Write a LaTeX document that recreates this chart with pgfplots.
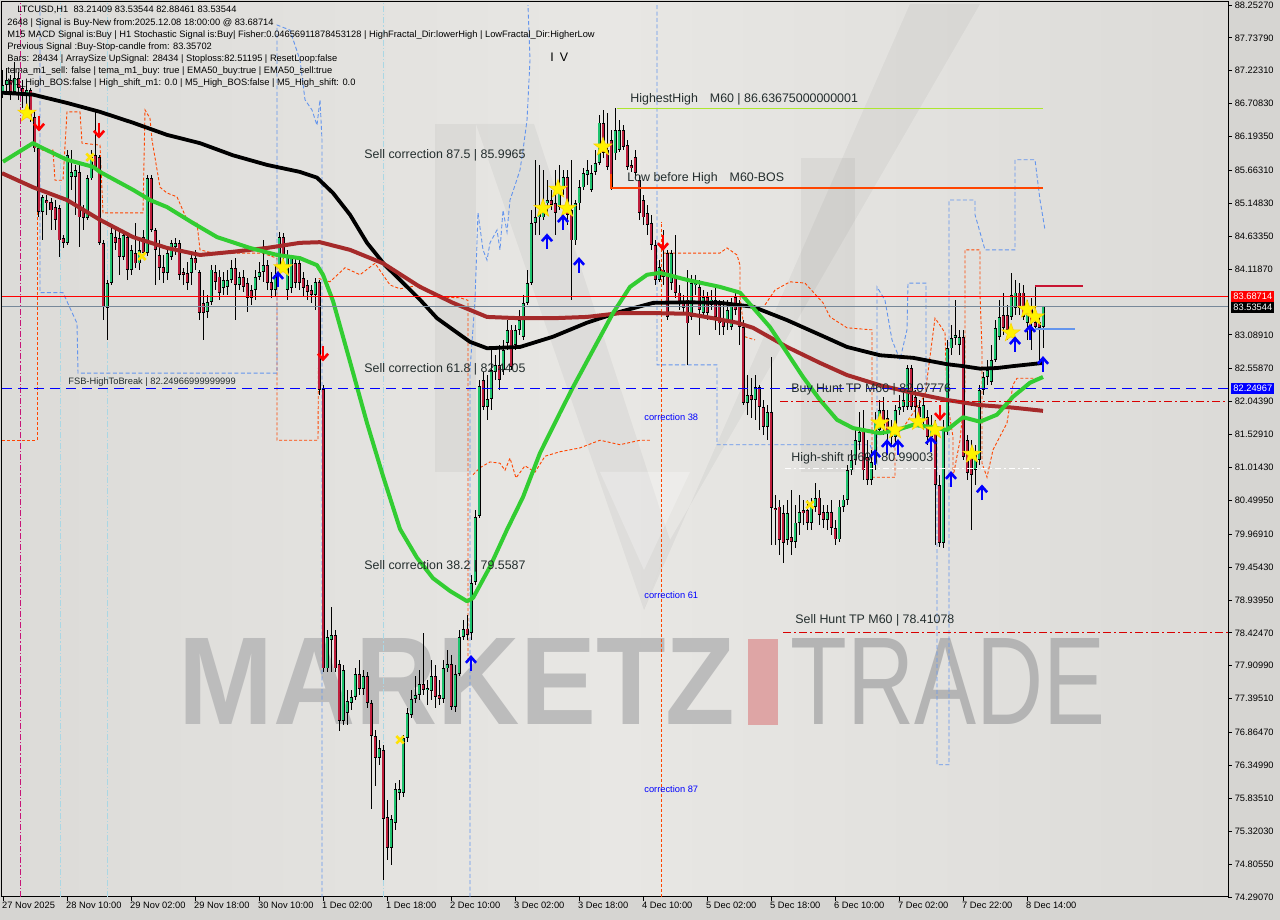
\documentclass[border=0pt]{standalone}
\usepackage{fontspec}
\setmainfont{Liberation Sans}
\usepackage{graphicx}
\usepackage{pgfplots}
\pgfplotsset{compat=1.18}
\usepackage{pgfplotstable}

\definecolor{bgout}{RGB}{214,213,210}
\definecolor{bgin}{RGB}{220,219,216}
\definecolor{bglt}{RGB}{232,231,228}
\definecolor{cup}{RGB}{30,195,110}
\definecolor{cdn}{RGB}{190,30,60}
\definecolor{maG}{RGB}{50,205,50}
\definecolor{maB}{RGB}{165,42,42}
\definecolor{envO}{RGB}{255,69,0}
\definecolor{envB}{RGB}{100,149,237}
\definecolor{pbl}{RGB}{170,215,228}
\definecolor{hhline}{RGB}{173,230,47}
\definecolor{slate}{RGB}{119,136,153}
\definecolor{txt}{RGB}{35,45,45}
\definecolor{wmgray}{RGB}{188,188,188}
\definecolor{wmgray2}{RGB}{180,180,180}
\definecolor{wmred}{RGB}{222,165,165}
\definecolor{mag}{RGB}{200,20,120}
\definecolor{crim}{RGB}{200,20,50}

\newcommand{\fsS}{\fontsize{4.65}{5.5}\selectfont}
\newcommand{\fsM}{\fontsize{6.2}{7}\selectfont}
\newcommand{\fsL}{\fontsize{6.2}{7}\selectfont}

\pgfdeclareplotmark{uarr}{%
  \pgfpathmoveto{\pgfqpoint{0pt}{-\pgfplotmarksize}}%
  \pgfpathlineto{\pgfqpoint{0pt}{0.9\pgfplotmarksize}}%
  \pgfusepathqstroke
  \pgfpathmoveto{\pgfqpoint{-0.75\pgfplotmarksize}{0.15\pgfplotmarksize}}%
  \pgfpathlineto{\pgfqpoint{0pt}{\pgfplotmarksize}}%
  \pgfpathlineto{\pgfqpoint{0.75\pgfplotmarksize}{0.15\pgfplotmarksize}}%
  \pgfusepathqstroke}
\pgfdeclareplotmark{darr}{%
  \pgfpathmoveto{\pgfqpoint{0pt}{\pgfplotmarksize}}%
  \pgfpathlineto{\pgfqpoint{0pt}{-0.9\pgfplotmarksize}}%
  \pgfusepathqstroke
  \pgfpathmoveto{\pgfqpoint{-0.75\pgfplotmarksize}{-0.15\pgfplotmarksize}}%
  \pgfpathlineto{\pgfqpoint{0pt}{-\pgfplotmarksize}}%
  \pgfpathlineto{\pgfqpoint{0.75\pgfplotmarksize}{-0.15\pgfplotmarksize}}%
  \pgfusepathqstroke}
\pgfdeclareplotmark{fstar}{%
  \pgfpathmoveto{\pgfqpoint{0pt}{\pgfplotmarksize}}%
  \pgfpathlineto{\pgfqpoint{-0.235\pgfplotmarksize}{0.324\pgfplotmarksize}}%
  \pgfpathlineto{\pgfqpoint{-0.951\pgfplotmarksize}{0.309\pgfplotmarksize}}%
  \pgfpathlineto{\pgfqpoint{-0.380\pgfplotmarksize}{-0.124\pgfplotmarksize}}%
  \pgfpathlineto{\pgfqpoint{-0.588\pgfplotmarksize}{-0.809\pgfplotmarksize}}%
  \pgfpathlineto{\pgfqpoint{0pt}{-0.4\pgfplotmarksize}}%
  \pgfpathlineto{\pgfqpoint{0.588\pgfplotmarksize}{-0.809\pgfplotmarksize}}%
  \pgfpathlineto{\pgfqpoint{0.380\pgfplotmarksize}{-0.124\pgfplotmarksize}}%
  \pgfpathlineto{\pgfqpoint{0.951\pgfplotmarksize}{0.309\pgfplotmarksize}}%
  \pgfpathlineto{\pgfqpoint{0.235\pgfplotmarksize}{0.324\pgfplotmarksize}}%
  \pgfpathclose
  \pgfusepathqfillstroke}

\pgfplotstableread{
i o h l c
0 86.89 87.24 86.80 87.00
1 87.00 87.27 86.89 87.08
2 87.08 87.16 86.77 86.89
3 86.89 87.36 86.84 87.11
4 87.11 87.20 86.77 86.95
5 86.95 87.08 86.64 86.83
6 86.83 87.05 86.70 86.92
7 86.92 86.95 86.42 86.50
8 86.50 86.61 85.95 86.01
9 86.01 86.06 84.93 85.01
10 85.01 85.28 84.57 85.25
11 85.20 85.28 84.97 85.15
12 85.17 85.23 84.73 85.04
13 85.09 85.20 84.73 84.89
14 85.07 85.12 84.31 84.57
15 84.61 84.65 84.45 84.53
16 84.53 85.98 84.50 85.90
17 85.56 85.98 85.36 85.64
18 85.56 85.75 84.97 85.67
19 85.64 85.75 84.47 84.93
20 85.04 85.12 84.73 84.92
21 84.92 85.59 84.89 85.54
22 85.54 85.98 85.51 85.87
23 85.90 86.61 85.67 85.72
24 85.87 85.90 84.50 84.53
25 84.53 84.57 83.32 83.53
26 83.51 83.95 83.01 83.90
27 83.90 84.81 83.87 84.68
28 84.62 84.73 84.42 84.53
29 84.61 84.70 84.03 84.31
30 84.31 84.73 84.26 84.65
31 84.62 84.70 83.95 84.11
32 84.11 84.50 84.03 84.42
33 84.37 84.84 84.14 84.21
34 84.21 84.57 84.11 84.42
35 84.62 84.73 84.34 84.37
36 84.37 85.59 84.32 85.54
37 85.54 85.59 84.70 84.73
38 84.73 84.76 83.87 84.42
39 84.34 84.57 83.95 84.14
40 84.15 84.34 83.90 84.06
41 84.06 84.42 83.95 84.37
42 84.31 84.57 84.26 84.53
43 84.47 84.61 84.34 84.53
44 84.53 84.57 83.95 84.03
45 84.07 84.14 83.87 84.03
46 84.06 84.23 83.79 83.90
47 84.06 84.34 83.87 84.29
48 84.29 84.42 84.11 84.21
49 84.07 84.11 83.32 83.43
50 83.59 83.79 83.01 83.43
51 83.45 83.71 83.35 83.60
52 83.60 84.18 83.56 84.11
53 84.07 84.18 83.79 83.92
54 84.00 84.11 83.64 83.75
55 83.82 84.07 83.71 83.95
56 83.84 84.11 83.71 83.95
57 83.95 84.26 83.90 84.14
58 84.14 84.29 83.32 83.87
59 83.87 84.07 83.79 84.00
60 84.00 84.11 83.76 83.84
61 83.90 83.98 83.45 83.67
62 83.79 83.87 83.56 83.67
63 83.79 84.11 83.64 84.00
64 84.00 84.23 83.95 84.07
65 84.07 84.57 83.92 84.18
66 84.18 84.26 83.79 83.90
67 83.92 84.07 83.67 83.79
68 83.79 84.18 83.68 84.03
69 84.14 84.70 84.11 84.62
70 84.62 84.68 84.18 84.34
71 83.79 84.42 83.64 84.34
72 83.82 84.34 83.74 84.29
73 84.21 84.29 83.82 83.90
74 84.21 84.29 83.79 83.90
75 83.98 84.07 83.70 83.82
76 83.87 83.95 83.64 83.76
77 83.79 83.87 83.59 83.71
78 83.71 83.98 83.48 83.92
79 83.92 83.95 82.15 82.23
80 82.24 82.30 77.81 77.87
81 77.87 78.47 77.81 78.36
82 78.31 78.83 77.81 78.39
83 78.39 78.47 77.81 77.87
84 77.94 78.00 76.89 77.05
85 77.05 77.92 76.98 77.84
86 77.17 77.53 76.98 77.36
87 77.33 77.53 77.22 77.42
88 77.42 77.88 77.38 77.78
89 77.78 78.00 77.45 77.55
90 77.55 77.84 77.45 77.75
91 77.75 77.81 77.25 77.33
92 77.33 77.38 75.67 76.81
93 76.81 76.91 76.03 76.47
94 76.47 76.75 76.36 76.62
95 76.59 76.67 74.56 75.51
96 75.54 75.81 74.87 75.06
97 75.06 75.57 74.79 75.51
98 75.45 76.08 75.34 75.98
99 75.92 76.12 75.81 75.98
100 75.92 76.83 75.86 76.78
101 76.78 77.25 76.72 77.17
102 77.14 77.53 77.09 77.39
103 77.39 77.75 77.33 77.45
104 77.45 77.84 77.38 77.62
105 77.62 78.42 77.45 77.53
106 77.53 77.69 77.30 77.56
107 77.52 78.00 77.38 77.75
108 77.75 77.92 77.25 77.42
109 77.45 77.69 77.30 77.39
110 77.39 78.00 77.33 77.87
111 77.87 78.16 77.81 77.94
112 77.94 78.08 77.22 77.27
113 77.27 77.92 77.19 77.78
114 77.78 78.47 77.75 78.36
115 78.36 78.63 78.31 78.49
116 78.49 78.70 78.31 78.39
117 78.42 79.33 78.31 79.20
118 79.22 80.35 79.17 80.24
119 80.25 82.38 80.22 82.29
120 82.38 82.51 81.91 81.96
121 81.96 82.46 81.76 82.09
122 82.09 82.85 81.91 82.54
123 82.51 82.77 82.38 82.62
124 82.62 82.93 82.23 82.38
125 82.54 83.01 82.46 82.85
126 82.96 83.32 82.85 83.17
127 83.17 83.24 82.54 82.59
128 82.93 83.24 82.85 83.17
129 83.17 83.48 83.09 83.32
130 83.06 83.71 83.01 83.59
131 83.59 84.11 83.56 83.90
132 83.90 85.04 83.87 84.84
133 84.84 85.83 84.65 84.93
134 84.93 85.75 84.65 85.00
135 84.93 85.67 84.89 85.15
136 85.15 85.51 84.97 85.20
137 85.20 85.36 85.04 85.12
138 85.15 85.67 84.65 85.00
139 85.09 85.75 85.04 85.40
140 85.40 85.67 85.28 85.56
141 85.56 85.67 84.81 84.97
142 85.04 85.83 83.64 84.57
143 84.57 85.20 84.50 85.15
144 85.15 85.51 85.04 85.40
145 85.40 85.70 85.36 85.62
146 85.59 85.83 85.43 85.67
147 85.36 85.75 85.33 85.62
148 85.64 85.98 85.59 85.78
149 85.78 86.53 85.75 86.41
150 86.41 86.61 85.86 85.94
151 85.98 86.56 85.67 85.72
152 86.14 86.30 85.36 85.40
153 85.93 86.64 85.83 86.30
154 85.98 86.45 85.95 86.30
155 86.30 86.37 85.98 86.03
156 86.06 86.14 85.67 85.72
157 85.75 85.83 85.64 85.70
158 85.87 85.98 85.54 85.62
159 85.51 85.59 84.89 85.00
160 85.20 85.28 84.81 84.93
161 85.00 85.12 84.65 84.81
162 84.84 84.97 84.42 84.50
163 84.50 84.57 83.87 83.95
164 83.95 84.26 83.92 84.15
165 84.11 84.73 83.87 84.00
166 84.37 84.42 83.32 83.37
167 83.90 84.42 83.79 84.37
168 83.98 84.65 83.67 83.75
169 83.75 83.87 83.48 83.59
170 83.59 83.71 83.40 83.51
171 83.64 84.11 82.62 83.27
172 83.37 84.03 83.32 83.90
173 83.87 84.03 83.71 83.90
174 83.84 83.95 83.09 83.48
175 83.43 83.79 83.35 83.68
176 83.68 83.76 83.32 83.43
177 83.56 83.79 83.48 83.64
178 83.64 83.87 83.17 83.37
179 83.59 83.64 83.09 83.27
180 83.32 83.64 83.09 83.21
181 83.32 83.64 83.17 83.48
182 83.21 83.67 83.17 83.59
183 83.68 83.79 83.40 83.48
184 83.56 83.64 82.93 83.21
185 83.21 83.32 81.99 82.02
186 82.02 82.46 81.83 82.15
187 82.15 82.41 81.79 82.07
188 82.07 82.46 81.76 82.27
189 82.27 82.30 81.60 81.96
190 81.96 82.07 81.52 81.65
191 81.65 81.99 81.44 81.88
192 81.88 82.74 79.80 80.38
193 80.38 80.58 79.80 80.35
194 80.40 80.51 79.64 79.88
195 80.30 80.43 79.52 79.83
196 79.88 80.51 79.80 80.30
197 79.93 80.66 79.64 79.85
198 79.85 80.43 79.75 80.15
199 80.15 80.58 79.96 80.32
200 80.35 80.51 80.11 80.30
201 80.35 80.51 80.04 80.15
202 80.15 80.54 80.04 80.40
203 80.40 80.77 80.32 80.54
204 80.54 80.66 80.11 80.27
205 80.32 80.43 80.07 80.19
206 80.19 80.43 80.04 80.32
207 80.32 80.51 79.96 80.07
208 80.07 80.19 79.80 79.89
209 79.89 80.51 79.85 80.40
210 80.40 80.58 80.32 80.51
211 80.51 81.05 80.43 80.97
212 80.97 81.29 80.90 81.13
213 81.13 81.60 81.05 81.44
214 81.41 81.88 81.29 81.57
215 81.60 81.91 80.82 80.97
216 81.18 81.44 80.74 80.82
217 80.82 81.29 80.74 81.10
218 81.10 81.88 80.97 81.76
219 81.60 82.07 81.52 81.91
220 81.91 82.12 81.52 81.65
221 81.79 81.91 81.37 81.55
222 81.60 81.76 81.37 81.49
223 81.49 81.99 81.37 81.91
224 81.91 82.15 81.83 81.96
225 81.96 82.23 81.88 82.07
226 81.96 82.62 81.91 82.57
227 82.57 82.62 81.91 81.96
228 82.12 82.23 81.76 81.96
229 81.96 82.07 81.68 81.80
230 81.76 82.10 81.60 81.99
231 81.80 81.91 81.37 81.49
232 81.49 81.83 81.37 81.65
233 81.65 81.76 79.80 80.74
234 80.74 80.90 79.77 79.83
235 79.83 81.76 79.75 81.60
236 81.60 83.01 81.52 82.88
237 82.88 83.24 82.77 83.04
238 83.04 83.64 82.93 83.09
239 82.93 83.17 82.77 83.06
240 83.06 83.17 81.13 81.18
241 81.44 81.52 80.82 80.93
242 81.29 81.44 80.04 80.90
243 80.97 81.37 80.74 81.21
244 81.13 82.30 81.05 82.23
245 82.23 82.51 82.15 82.43
246 82.43 82.70 82.31 82.54
247 82.35 82.93 82.31 82.70
248 82.70 83.32 82.67 83.20
249 83.06 83.64 83.01 83.37
250 83.40 83.75 83.09 83.20
251 83.40 83.56 83.01 83.17
252 83.37 84.06 83.32 83.71
253 83.51 83.95 83.40 83.75
254 83.75 83.90 83.40 83.51
255 83.75 83.87 83.32 83.37
256 83.28 83.64 83.01 83.51
257 83.51 83.67 82.85 83.27
258 83.29 83.84 83.17 83.21
259 83.29 83.40 82.65 83.20
260 83.21 83.54 82.88 83.54
}\candles

\begin{document}
\begin{tikzpicture}
\fill[bgout] (0,0) rectangle (640pt,460pt);
\shade[left color=bgin, right color=bgin, middle color=bglt] (1pt,11.5pt) rectangle (614pt,459pt);
% faint logo shapes
\fill[black, opacity=0.045] (217.5pt,398pt) rectangle (238pt,224pt);
\fill[black, opacity=0.045] (400.5pt,381pt) rectangle (427.5pt,224pt);
\fill[black, opacity=0.04] (238pt,398pt) -- (267pt,398pt) -- (335pt,190pt) -- (322pt,155pt) -- cycle;
\fill[black, opacity=0.04] (322pt,155pt) -- (335pt,190pt) -- (490pt,458pt) -- (455pt,458pt) -- cycle;
\fill[white, opacity=0.25] (300pt,224pt) -- (322pt,175pt) -- (345pt,224pt) -- cycle;
% watermark
\node[anchor=south west, inner sep=0pt, text=wmgray] at (89pt,97.5pt) {\resizebox{278.5pt}{43pt}{\bfseries MARKETZ}};
\fill[wmred] (374pt,97.5pt) rectangle (389pt,140.5pt);
\node[anchor=south west, inner sep=0pt, text=wmgray2] at (395pt,97.5pt) {\resizebox{157.5pt}{43pt}{TRADE}};

\begin{axis}[
  at={(1pt,11.5pt)}, anchor=south west, scale only axis,
  width=613pt, height=447.5pt,
  xmin=-0.25, xmax=306.25, ymin=74.29, ymax=88.30,
  axis line style={black, line width=0.5pt},
  tick align=outside, major tick length=2pt,
  tick style={black, line width=0.4pt},
  xtick pos=bottom, ytick pos=right,
  xtick={0,16,...,256},
  xticklabels={27 Nov 2025, 28 Nov 10:00, 29 Nov 02:00, 29 Nov 18:00, 30 Nov 10:00, 1 Dec 02:00, 1 Dec 18:00, 2 Dec 10:00, 3 Dec 02:00, 3 Dec 18:00, 4 Dec 10:00, 5 Dec 02:00, 5 Dec 18:00, 6 Dec 10:00, 7 Dec 02:00, 7 Dec 22:00, 8 Dec 14:00},
  xticklabel style={anchor=north west, xshift=-1.2pt, yshift=0.3pt, inner sep=0.6pt, font=\fsS, text=black},
  ytick={88.2527,87.7379,87.2231,86.7083,86.1935,85.6631,85.1483,84.6335,84.1187,83.0891,82.5587,82.0439,81.5291,81.0143,80.4995,79.9691,79.4543,78.9395,78.4247,77.9099,77.3951,76.8647,76.3499,75.8351,75.3203,74.8055,74.2907},
  yticklabels={88.25270,87.73790,87.22310,86.70830,86.19350,85.66310,85.14830,84.63350,84.11870,83.08910,82.55870,82.04390,81.52910,81.01430,80.49950,79.96910,79.45430,78.93950,78.42470,77.90990,77.39510,76.86470,76.34990,75.83510,75.32030,74.80550,74.29070},
  yticklabel pos=right,
  yticklabel style={anchor=west, inner sep=0.6pt, xshift=0.6pt, font=\fsS, text=black},
  clip=true,
]
% vertical marker lines
\addplot[mag, line width=0.45pt, dash pattern=on 3pt off 1pt on 0.6pt off 1pt] coordinates {(4.25,74.29) (4.25,88.30)};
\addplot[pbl, line width=0.45pt, dash pattern=on 3pt off 1pt on 0.6pt off 1pt] coordinates {(14.25,74.29) (14.25,88.30)};
\addplot[pbl, line width=0.45pt, dash pattern=on 3pt off 1pt on 0.6pt off 1pt] coordinates {(26,74.29) (26,88.30)};
\addplot[pbl, line width=0.45pt, dash pattern=on 3pt off 1pt on 0.6pt off 1pt] coordinates {(95,74.29) (95,88.30)};

% orange envelope
\addplot[envO, line width=0.45pt, dash pattern=on 1.5pt off 1pt] coordinates {
(8.5,85.98) (12.5,85.98) (13,85.51) (15,85.51) (16,86.58) (19.25,86.58) (19.75,86.09) (24.25,86.06) (25,85.00) (35,85.00) (35.5,86.61) (36.75,86.48) (37.25,86.14) (39.25,85.40) (41,85.31) (43.5,85.25) (46,84.89) (48.5,84.84) (49.25,84.42) (52.5,84.37) (64.75,84.37) (68.5,84.29) (68.5,81.44) (78.75,81.44) (79,83.97) (81.75,83.92) (85.5,84.14) (89.25,84.03) (93,84.21) (96.75,83.87) (99.25,83.81) (104.25,83.87) (109.25,83.68) (114.25,83.67) (116.25,83.63) (116.25,78.00)};
\addplot[envO, line width=0.45pt, dash pattern=on 1.5pt off 1pt] coordinates {(-0.25,81.44) (8.5,81.44) (8.5,85.98)};
\addplot[envO, line width=0.45pt, dash pattern=on 1.5pt off 1pt] coordinates {
(117.5,80.90) (119.25,81.01) (121.75,81.10) (124.25,81.08) (125.5,80.97) (126.75,81.16) (128.25,80.85) (130.5,81.04) (133,80.94) (135.5,81.19) (139.25,81.26) (144.25,81.32) (149.25,81.44) (154.25,81.37) (159.25,81.44) (161.75,81.44)};
\addplot[envO, line width=0.45pt, dash pattern=on 1.5pt off 1pt] coordinates {(164.5,74.29) (164.5,84.86)};
\addplot[envO, line width=0.45pt, dash pattern=on 1.5pt off 1pt] coordinates {
(165,84.37) (179.25,84.37) (181,84.45) (183.5,84.34) (184.25,84.18) (184.25,83.68) (185.5,83.06) (188,83.01)};
\addplot[envO, line width=0.45pt, dash pattern=on 1.5pt off 1pt] coordinates {
(190.5,83.56) (193,83.79) (196.75,83.92) (200.5,83.90) (205,83.59) (206.75,83.37) (211,83.20) (216.75,83.17) (217.25,83.17) (217.25,80.86) (223,80.86) (223,81.49) (225.5,81.68) (228,81.91) (230.5,82.15) (233,83.35) (234.25,83.24) (235.5,83.12) (236,82.07) (237.5,81.49) (237.5,80.86) (239.25,81.44) (240.5,82.23) (240.5,84.42) (244.25,84.42) (244.25,83.74) (244.75,82.85) (244.75,81.08) (246,80.86) (247.5,81.29) (251,81.71) (252.5,82.31) (253.5,82.41) (260,82.41)};

% blue envelope
\addplot[envB, line width=0.45pt, dash pattern=on 2pt off 1.2pt] coordinates {
(9.25,88.25) (9.25,83.75) (15,83.75) (18.5,83.27) (18.75,82.49) (36.75,82.49) (68.5,82.49) (68.5,87.94) (71.75,87.86) (74.25,87.39) (75.5,86.77) (77.25,86.61) (78.5,86.37) (79.25,86.77) (79.75,86.14) (79.75,74.29)};
\addplot[envB, line width=0.45pt, dash pattern=on 2pt off 1.2pt] coordinates {
(116.75,74.29) (116.75,82.54) (118,83.63) (118.75,85.00) (120,84.42) (121,84.26) (121.75,84.53) (123.5,84.73) (124.25,84.42) (125,85.04) (126,84.70) (126.75,85.20) (128,85.43) (129.25,85.67) (130,85.98) (131,86.45) (131.75,87.39) (131.25,88.25)};
\addplot[envB, line width=0.45pt, dash pattern=on 2pt off 1.2pt] coordinates {
(163.5,88.25) (163.5,82.62) (178.5,82.62) (178.5,81.37) (216.75,81.37) (218.5,81.08) (218.5,83.84) (220.5,83.63) (222.25,83.01) (224.25,82.70) (226,83.17) (226.25,83.90) (230.75,83.90) (230.75,82.18)};
\addplot[envB, line width=0.45pt, dash pattern=on 2pt off 1.2pt] coordinates {
(233.5,81.44) (233.5,76.36) (236.5,76.36) (236.5,85.20) (243,85.20) (243,84.97) (245.5,84.42) (253,84.42) (253,85.83) (258,85.83) (259.25,85.20) (260.5,84.73)};

% candles: wicks
\addplot[only marks, mark=*, mark size=0pt, mark options={draw=none, fill=none}, error bars/.cd, y dir=both, y explicit, error mark=none,
  error bar style={black, line width=0.5pt}]
  table[x=i, y expr={(\thisrow{h}+\thisrow{l})/2}, y error expr={(\thisrow{h}-\thisrow{l})/2}] {\candles};
% bodies outline
\addplot[only marks, mark=*, mark size=0pt, mark options={draw=none, fill=none}, error bars/.cd, y dir=both, y explicit, error mark=none,
  error bar style={black, line width=1.5pt}]
  table[x=i, y expr={(\thisrow{o}+\thisrow{c})/2}, y error expr={max(abs(\thisrow{c}-\thisrow{o})/2,0.01)}] {\candles};
% up bodies
\addplot[only marks, mark=*, mark size=0pt, mark options={draw=none, fill=none}, restrict y to domain=70:90, error bars/.cd, y dir=both, y explicit, error mark=none,
  error bar style={cup, line width=0.75pt}]
  table[x=i, y expr={\thisrow{c}>=\thisrow{o} ? (\thisrow{o}+\thisrow{c})/2 : 0}, y error expr={max(abs(\thisrow{c}-\thisrow{o})/2-0.012,0)}] {\candles};
% down bodies
\addplot[only marks, mark=*, mark size=0pt, mark options={draw=none, fill=none}, restrict y to domain=70:90, error bars/.cd, y dir=both, y explicit, error mark=none,
  error bar style={cdn, line width=0.75pt}]
  table[x=i, y expr={\thisrow{c}<\thisrow{o} ? (\thisrow{o}+\thisrow{c})/2 : 0}, y error expr={max(abs(\thisrow{c}-\thisrow{o})/2-0.012,0)}] {\candles};

% moving averages
\addplot[black, line width=1.9pt, line join=round] coordinates {
(-0.25,86.88) (7.5,86.85) (16,86.72) (24.25,86.58) (32.5,86.41) (41,86.22) (49.25,86.09) (57.5,85.90) (66,85.75) (74.25,85.64) (78.5,85.55) (82.5,85.31) (86.75,84.97) (91,84.53) (95.5,84.18) (99.25,83.95) (104.25,83.64) (108.5,83.35) (112.5,83.17) (116.75,82.98) (121,82.88) (129.25,82.90) (137.5,83.06) (146,83.28) (154.25,83.45) (162.5,83.59) (171,83.60) (179.25,83.59) (187.5,83.53) (196,83.32) (204.25,83.09) (211,82.90) (219.25,82.77) (227.5,82.73) (236,82.63) (240,82.60) (244.25,82.56) (248.5,82.57) (252.5,82.60) (260,82.65)};
\addplot[maB, line width=2pt, line join=round] coordinates {
(-0.25,85.62) (7.5,85.40) (16,85.20) (24.25,84.89) (32.5,84.62) (41,84.45) (49.25,84.34) (57.5,84.39) (66,84.45) (74.25,84.53) (79.25,84.54) (86.75,84.42) (95,84.21) (104.25,83.84) (112.5,83.59) (121,83.37) (129.25,83.35) (137.5,83.35) (146,83.37) (154.25,83.43) (162.5,83.43) (171,83.42) (177.5,83.35) (183.5,83.28) (187.5,83.20) (196,82.90) (204.25,82.65) (211,82.46) (219.25,82.30) (227.5,82.18) (236,82.07) (244.25,81.99) (252.5,81.95) (260,81.90)};
\addplot[maG, line width=2pt, line join=round] coordinates {
(0,85.80) (7.5,86.09) (10,86.01) (16,85.83) (22.5,85.72) (24.25,85.64) (32.5,85.36) (36.75,85.20) (41,85.09) (47.5,84.84) (53.5,84.62) (61.75,84.45) (68.5,84.34) (74.25,84.29) (78.5,84.18) (80,84.03) (82.5,83.62) (86.75,82.67) (91,81.71) (95,80.88) (99.25,80.05) (103.5,79.60) (107.5,79.28) (111.75,79.08) (116,78.92) (117.5,78.97) (121.75,79.46) (126,80.04) (130,80.55) (134.25,81.24) (139.25,81.87) (142.5,82.27) (147.5,82.85) (152.5,83.43) (156.75,83.84) (161,84.03) (164.25,84.06) (171,83.95) (179.25,83.84) (184.25,83.75) (191.75,83.21) (196,82.81) (200,82.43) (204.25,82.07) (208.5,81.76) (212.5,81.63) (219.25,81.55) (223.5,81.60) (227.5,81.68) (231.75,81.65) (236,81.60) (240,81.80) (244.25,81.73) (248.5,81.84) (252.5,82.12) (256.75,82.34) (260,82.43)};

% horizontal levels
\addplot[red, line width=0.6pt] coordinates {(-0.25,83.68714) (306.25,83.68714)};
\addplot[slate, line width=0.6pt] coordinates {(-0.25,83.53544) (306.25,83.53544)};
\addplot[blue, line width=0.6pt, dash pattern=on 5pt off 3pt] coordinates {(-0.25,82.24967) (306.25,82.24967)};
\addplot[red!85!black, line width=0.5pt, dash pattern=on 4pt off 1.5pt on 1pt off 1.5pt] coordinates {(194.25,82.0439) (306.25,82.0439)};
\addplot[red!85!black, line width=0.5pt, dash pattern=on 4pt off 1.5pt on 1pt off 1.5pt] coordinates {(195,78.4247) (306.25,78.4247)};
\addplot[hhline, line width=0.6pt] coordinates {(153.5,86.63675) (260,86.63675)};
\addplot[envO, line width=0.6pt] coordinates {(152,85.60) (152,85.389) (260,85.389)};
\addplot[crim, line width=0.6pt] coordinates {(258,83.855) (270,83.855)};
\addplot[envB, line width=0.6pt] coordinates {(258,83.18) (268,83.18)};
\addplot[white, line width=0.5pt, dash pattern=on 3pt off 1.5pt on 1pt off 1.5pt] coordinates {(195.5,80.99) (259.25,80.99)};

% signal marks
\addplot[only marks, mark=fstar, mark size=4.8pt, mark options={fill=yellow, draw=yellow!70!orange, line width=0.3pt}] coordinates {
(6,86.56) (70,84.14) (135,85.07) (138.75,85.37) (141,85.07) (150,86.03) (219.25,81.71) (223,81.60) (228.75,81.73) (233,81.60) (242.25,81.22) (252,83.12) (256,83.49) (258,83.37)};
\addplot[only marks, mark=x, mark size=2.6pt, mark options={draw=yellow!85!orange, line width=1.3pt}] coordinates {
(21.75,85.87) (34.75,84.32) (99.25,76.75) (201.75,80.43)};
\addplot[only marks, mark=uarr, mark size=3.4pt, mark options={draw=blue, line width=1.3pt}] coordinates {
(68.75,83.95) (117,77.94) (136,84.54) (140,84.84) (144,84.17) (218,81.16) (221,81.32) (223.75,81.32) (232,81.37) (237,80.82) (244.75,80.61) (253,82.93) (256.75,83.12) (260,82.62)};
\addplot[only marks, mark=darr, mark size=3.4pt, mark options={draw=red, line width=1.3pt}] coordinates {
(9,86.41) (24,86.30) (80,82.81) (165,84.54) (234.25,81.88)};
\end{axis}

% price tags
\node[fill=red, text=white, font=\fsS, anchor=west, inner xsep=1pt, inner ysep=0.6pt, minimum height=5.4pt] at (615.5pt,311.65pt) {83.68714};
\node[fill=black, text=white, font=\fsS, anchor=west, inner xsep=1pt, inner ysep=0.6pt, minimum height=5.4pt] at (615.5pt,306.3pt) {83.53544};
\node[fill=blue, text=white, font=\fsS, anchor=west, inner xsep=1pt, inner ysep=0.6pt, minimum height=5.4pt] at (615.5pt,265.75pt) {82.24967};

% header
\begin{scope}[every node/.style={anchor=west, inner sep=0pt, font=\fsS, text=black}]
\node at (8.5pt,455pt) {LTCUSD,H1\ \ 83.21409 83.53544 82.88461 83.53544};
\node at (3.5pt,448.5pt) {2648 | Signal is Buy-New from:2025.12.08 18:00:00 @ 83.68714};
\node at (3.5pt,442.5pt) {M15 MACD Signal is:Buy | H1 Stochastic Signal is:Buy| Fisher:0.04656911878453128 | HighFractal\_Dir:lowerHigh | LowFractal\_Dir:HigherLow};
\node at (3.5pt,436.5pt) {Previous Signal :Buy-Stop-candle from: 83.35702};
\node at (3.5pt,430.5pt) {Bars: 28434 | ArraySize UpSignal: 28434 | Stoploss:82.51195 | ResetLoop:false};
\node at (3.5pt,424.5pt) {tema\_m1\_sell: false | tema\_m1\_buy: true | EMA50\_buy:true | EMA50\_sell:true};
\node at (3.5pt,418.5pt) {M1\_High\_BOS:false | High\_shift\_m1: 0.0 | M5\_High\_BOS:false | M5\_High\_shift: 0.0};
\node[font=\fsM] at (275pt,431.5pt) {I\hspace{3pt}V};
\end{scope}

% chart labels
\begin{scope}[every node/.style={anchor=west, inner sep=0pt, text=txt}]
\node[font=\fsL] at (315pt,410.5pt) {HighestHigh\hspace{6pt}M60 | 86.63675000000001};
\node[font=\fsL] at (313.5pt,371pt) {Low before High\hspace{6pt}M60-BOS};
\node[font=\fsM] at (182pt,382.5pt) {Sell correction 87.5 | 85.9965};
\node[font=\fsM] at (182pt,275.5pt) {Sell correction 61.8 | 82.4405};
\node[font=\fsM] at (182pt,177pt) {Sell correction 38.2 | 79.5587};
\node[font=\fsS] at (34pt,269pt) {FSB-HighToBreak | 82.24966999999999};
\node[font=\fsL] at (395.5pt,265.5pt) {Buy Hunt TP M60 | 82.07776};
\node[font=\fsL] at (395.5pt,231pt) {High-shift m60 | 80.99003};
\node[font=\fsL] at (397.5pt,150pt) {Sell Hunt TP M60 | 78.41078};
\node[font=\fsS, text=blue] at (322pt,251.5pt) {correction 38};
\node[font=\fsS, text=blue] at (322pt,162.5pt) {correction 61};
\node[font=\fsS, text=blue] at (322pt,65.5pt) {correction 87};
\end{scope}

\pgfresetboundingbox
\path (0,0) rectangle (640pt,460pt);
\end{tikzpicture}
\end{document}
